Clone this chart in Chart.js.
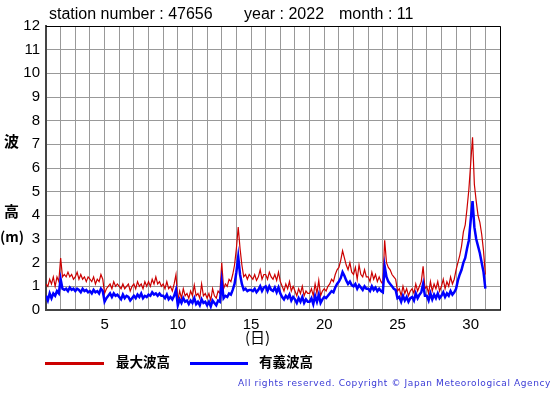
<!DOCTYPE html>
<html>
<head>
<meta charset="utf-8">
<script src="https://cdn.jsdelivr.net/npm/chart.js@4/dist/chart.umd.min.js"></script>
<style>
  html,body{margin:0;padding:0;background:#fff;}
  #wrap{position:relative;width:555px;height:395px;overflow:hidden;font-family:"Liberation Sans",Arial,sans-serif;}
  canvas{position:absolute;left:0;top:0;}
  .t{position:absolute;white-space:nowrap;color:#000;line-height:1;}
  .jp{font-family:"Noto Sans CJK JP","Noto Sans",sans-serif;font-weight:bold;}
  .lg{position:absolute;height:3px;}
</style>
</head>
<body>
<div id="wrap">
  <canvas id="c" width="555" height="395"></canvas>
  <div class="t" style="left:49px;top:6px;font-size:16px;">station number : 47656</div>
  <div class="t" style="left:244px;top:6px;font-size:16px;">year : 2022</div>
  <div class="t" style="left:339px;top:6px;font-size:16px;">month : 11</div>
  <div class="t jp" style="left:4px;top:133px;font-size:15px;">波</div>
  <div class="t jp" style="left:4px;top:203px;font-size:15px;">高</div>
  <div class="t jp" style="left:0px;top:229px;font-size:14px;">(m)</div>
  <div class="t jp" style="left:245px;top:329px;font-size:15px;font-weight:normal;">(日)</div>
  <div class="lg" style="left:45px;top:362px;width:59px;background:#cc0000;"></div>
  <div class="t jp" style="left:116px;top:355px;font-size:13.5px;">最大波高</div>
  <div class="lg" style="left:190px;top:362px;width:58px;background:#0000ff;"></div>
  <div class="t jp" style="left:259px;top:355px;font-size:13.5px;">有義波高</div>
  <div class="t" style="right:4px;top:379px;font-size:9px;letter-spacing:0.6px;color:#3a3ad6;font-family:'DejaVu Sans',sans-serif;">All rights reserved. Copyright © Japan Meteorological Agency</div>
</div>
<script>
// ---- data (3-hourly, starting day 1 00:00) ----
const startDay = 1;
const stepHours = 3;
const maxWave = [
  1.1,1.0,1.3,1.1,1.4,1.0,1.4,1.2,
  2.2,1.4,1.5,1.4,1.6,1.4,1.5,1.3,
  1.4,1.6,1.3,1.5,1.3,1.4,1.2,1.4,
  1.3,1.2,1.4,1.1,1.3,1.2,1.5,1.3,
  0.7,0.9,1.0,1.1,0.9,1.2,1.0,1.1,
  1.0,0.9,1.1,0.9,1.0,1.1,0.8,1.0,
  1.1,0.9,1.2,1.0,1.1,0.9,1.2,1.0,
  1.2,1.0,1.3,1.1,1.4,1.1,1.2,1.0,
  1.1,0.9,1.2,0.9,1.0,0.8,1.1,1.5,
  0.4,0.8,0.5,0.9,0.6,0.7,0.5,0.8,
  0.6,1.05,0.6,0.7,0.5,1.1,0.6,0.7,
  0.5,0.7,0.4,0.9,0.6,0.5,0.8,0.7,
  2.0,0.9,1.1,1.0,1.3,1.2,1.5,1.9,
  2.6,3.5,2.6,1.9,1.4,1.5,1.3,1.5,
  1.4,1.3,1.5,1.25,1.4,1.7,1.3,1.5,
  1.5,1.3,1.6,1.4,1.3,1.5,1.25,1.6,
  1.2,1.0,0.8,1.1,0.9,1.2,0.8,1.0,
  0.8,0.6,0.9,0.7,1.0,0.6,0.8,0.7,
  0.7,0.9,0.6,1.1,0.7,1.25,0.6,0.8,
  0.9,0.8,1.0,1.1,1.3,1.2,1.5,1.7,
  1.8,2.1,2.5,2.2,1.9,1.7,2.0,1.6,
  1.5,1.8,1.3,1.9,1.5,1.4,1.7,1.4,
  1.4,1.2,1.6,1.3,1.5,1.2,1.4,1.2,
  1.1,2.95,2.0,1.8,1.7,1.5,1.4,1.3,
  0.8,0.9,0.6,1.0,0.7,0.9,0.6,0.8,
  0.9,0.7,1.1,0.8,1.0,1.2,1.85,0.9,
  1.0,0.7,1.2,0.8,1.1,0.9,1.2,0.8,
  1.0,1.3,0.9,1.2,1.0,1.4,1.1,1.3,
  1.7,2.0,2.3,2.7,3.3,3.6,4.3,5.1,
  6.2,7.3,5.3,4.6,4.0,3.7,3.2,2.5,
  1.5
];
const sigWave = [
  0.6,0.4,0.7,0.5,0.7,0.6,0.8,0.7,
  1.3,0.9,0.85,0.9,0.8,0.95,0.85,0.9,
  0.8,0.9,0.85,0.75,0.9,0.8,0.85,0.75,
  0.8,0.7,0.85,0.75,0.8,0.7,0.9,0.8,
  0.35,0.5,0.6,0.7,0.55,0.7,0.6,0.65,
  0.55,0.45,0.65,0.5,0.6,0.55,0.4,0.5,
  0.6,0.5,0.65,0.55,0.7,0.5,0.6,0.55,
  0.65,0.6,0.75,0.65,0.7,0.6,0.7,0.6,
  0.6,0.5,0.65,0.45,0.55,0.45,0.6,0.85,
  0.2,0.45,0.3,0.5,0.35,0.4,0.25,0.4,
  0.3,0.5,0.25,0.35,0.2,0.45,0.3,0.35,
  0.2,0.35,0.15,0.4,0.3,0.2,0.4,0.35,
  1.2,0.5,0.6,0.55,0.7,0.65,0.85,1.1,
  1.6,2.25,1.5,1.1,0.85,0.9,0.8,0.85,
  0.85,0.8,0.9,0.75,0.85,1.0,0.8,0.95,
  1.0,0.8,1.0,0.85,0.8,0.95,0.75,0.95,
  0.7,0.55,0.45,0.6,0.5,0.65,0.4,0.55,
  0.45,0.3,0.5,0.35,0.55,0.3,0.45,0.35,
  0.35,0.5,0.25,0.6,0.35,0.65,0.3,0.45,
  0.55,0.5,0.6,0.7,0.8,0.75,0.95,1.1,
  1.2,1.35,1.6,1.45,1.25,1.1,1.2,1.05,
  1.0,1.1,0.9,1.05,0.95,0.85,1.0,0.9,
  0.9,0.8,1.0,0.85,0.95,0.8,0.9,0.8,
  0.75,1.85,1.4,1.2,1.1,1.0,0.9,0.85,
  0.5,0.55,0.35,0.6,0.4,0.55,0.35,0.5,
  0.55,0.4,0.7,0.5,0.65,0.75,1.1,0.6,
  0.6,0.4,0.7,0.45,0.65,0.5,0.7,0.5,
  0.6,0.75,0.55,0.7,0.6,0.8,0.65,0.75,
  0.9,1.25,1.5,1.7,2.0,2.2,2.6,2.95,
  3.8,4.6,3.5,3.0,2.7,2.4,2.0,1.6,
  0.9
];
const xMinDay = 1, xMaxDay = 32;
const xLabelDays = [5,10,15,20,25,30];
const yMin = 0, yMax = 12;

const toPts = arr => arr.map((v,i)=>({x: startDay + i*stepHours/24, y: v}));

const frame = {
  id:'frame',
  afterDraw(chart){
    const {ctx, chartArea:a} = chart;
    ctx.save();
    ctx.strokeStyle = '#000';
    ctx.lineWidth = 1;
    ctx.beginPath();
    ctx.moveTo(a.left, a.top+0.5); ctx.lineTo(a.right+0.5, a.top+0.5); ctx.lineTo(a.right+0.5, a.bottom);
    ctx.stroke();
    ctx.restore();
  }
};

new Chart(document.getElementById('c'), {
  type:'line',
  data:{datasets:[
    {label:'有義波高', data: toPts(sigWave), borderColor:'#0000ff', borderWidth:2.5, pointRadius:0, tension:0, order:0},
    {label:'最大波高', data: toPts(maxWave), borderColor:'#cc0000', borderWidth:1.2, pointRadius:0, tension:0, order:1}
  ]},
  options:{
    responsive:false, animation:false,
    layout:{padding:{top:26,right:55,left:0,bottom:0}},
    plugins:{legend:{display:false}, tooltip:{enabled:false}, title:{display:false}},
    scales:{
      x:{type:'linear', min:xMinDay, max:xMaxDay,
        afterFit(s){ s.height = 85; },
        grid:{color:'#999', lineWidth:1, drawTicks:false},
        border:{display:true, color:'#444', width:2},
        ticks:{stepSize:1, autoSkip:false, maxRotation:0, padding:6, color:'#000',
          font:{family:'"Liberation Sans", Arial, sans-serif', size:15},
          callback:v => xLabelDays.includes(v) ? String(v) : ''}
      },
      y:{type:'linear', min:yMin, max:yMax,
        afterFit(s){ s.width = 46; },
        grid:{color:'#999', lineWidth:1, drawTicks:false},
        border:{display:true, color:'#444', width:2},
        ticks:{stepSize:1, padding:6, color:'#000',
          font:{family:'"Liberation Sans", Arial, sans-serif', size:15}}
      }
    }
  },
  plugins:[frame]
});
</script>
</body>
</html>
